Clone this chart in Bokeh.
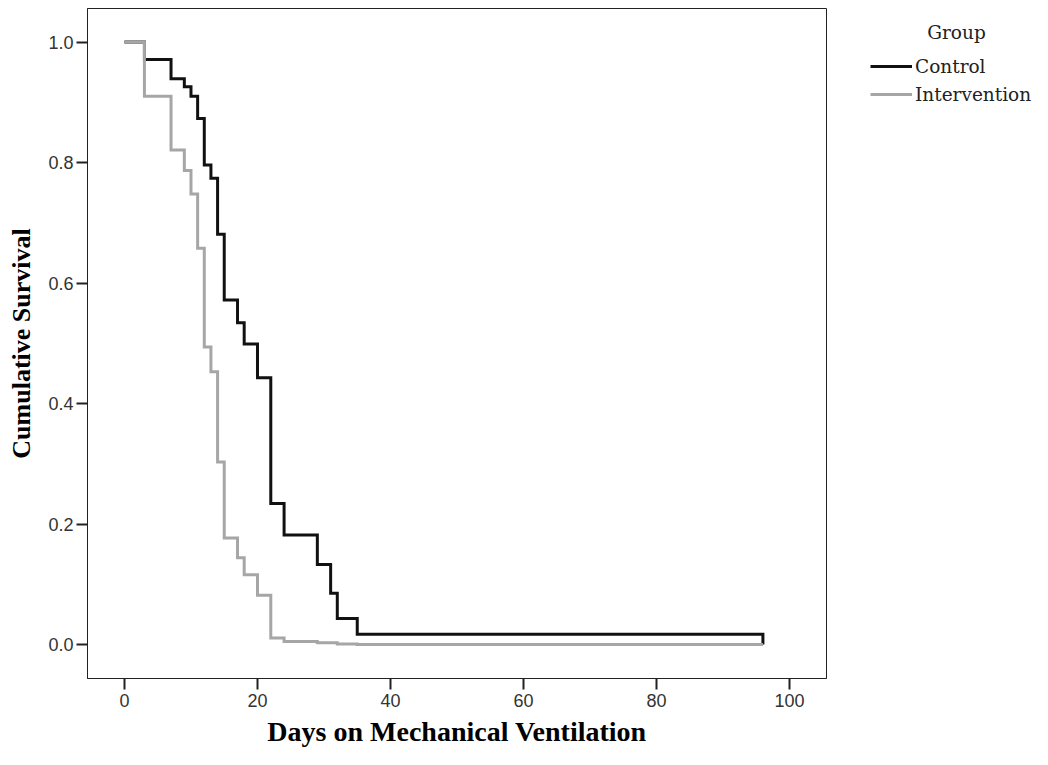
from bokeh.plotting import figure
from bokeh.layouts import row
from bokeh.models import (ColumnDataSource, Legend, LegendItem, Label, FixedTicker,
                          PrintfTickFormatter, Range1d)
from bokeh.embed import file_html
from bokeh.resources import INLINE

# Kaplan-Meier step data
control_days = [0, 3, 7, 9, 10, 11, 12, 13, 14, 15, 17, 18, 20, 22, 24, 29, 31, 32, 35, 96]
control_surv = [1.0, 0.971, 0.939, 0.926, 0.910, 0.873, 0.796, 0.774, 0.681, 0.572,
                0.534, 0.499, 0.443, 0.234, 0.182, 0.133, 0.085, 0.043, 0.017, 0.0]

interv_days = [0, 3, 7, 9, 10, 11, 12, 13, 14, 15, 17, 18, 20, 22, 24, 29, 32, 35, 96]
interv_surv = [1.0, 0.910, 0.821, 0.787, 0.748, 0.658, 0.494, 0.453, 0.303, 0.177,
               0.144, 0.116, 0.082, 0.011, 0.005, 0.003, 0.001, 0.0, 0.0]

x_ticks = [0, 20, 40, 60, 80, 100]
y_ticks = [0.0, 0.2, 0.4, 0.6, 0.8, 1.0]

group_title = "Group"
series_names = ["Control", "Intervention"]
series_colors = ["#111111", "#a6a6a6"]
x_title = "Days on Mechanical Ventilation"
y_title = "Cumulative Survival"

p = figure(width=828, height=749, output_backend="svg", toolbar_location=None,
           x_range=Range1d(-5.56, 105.56), y_range=Range1d(-0.0564, 1.0558),
           min_border_left=87, min_border_right=2, min_border_top=8,
           min_border_bottom=70)

p.xgrid.visible = False
p.ygrid.visible = False
p.outline_line_color = "#222222"
p.outline_line_width = 1
p.background_fill_color = "white"
p.border_fill_color = "white"

src_c = ColumnDataSource(dict(t=control_days, s=control_surv))
src_i = ColumnDataSource(dict(t=interv_days, s=interv_surv))

p.step(x="t", y="s", source=src_c, mode="after", line_color=series_colors[0],
       line_width=3, line_join="miter")
p.step(x="t", y="s", source=src_i, mode="after", line_color=series_colors[1],
       line_width=3, line_join="miter")

for ax in (p.xaxis[0], p.yaxis[0]):
    ax.major_tick_out = 11
    ax.major_tick_in = 0
    ax.minor_tick_line_color = None
    ax.major_tick_line_color = "#222222"
    ax.major_tick_line_width = 2
    ax.axis_line_color = "#222222"
    ax.major_label_text_font = "Liberation Sans"
    ax.major_label_text_font_size = "18px"
    ax.major_label_text_color = "#333333"
    ax.major_label_text_line_height = 1.0
    ax.axis_label_text_font = "Liberation Serif"
    ax.axis_label_text_font_style = "bold"
    ax.axis_label_text_color = "black"
    ax.axis_label_text_line_height = 1.0

p.xaxis.ticker = FixedTicker(ticks=x_ticks)
p.yaxis.ticker = FixedTicker(ticks=y_ticks)
p.yaxis.formatter = PrintfTickFormatter(format="%.1f")
p.xaxis.axis_label = x_title
p.yaxis.axis_label = y_title
p.xaxis.axis_label_text_font_size = "28px"
p.yaxis.axis_label_text_font_size = "26px"
p.xaxis.major_label_standoff = 4
p.yaxis.major_label_standoff = 3
p.xaxis.axis_label_standoff = 6
p.yaxis.axis_label_standoff = 9

# legend panel (its glyphs share the data but sit outside its own view)
lf = figure(width=204, height=749, output_backend="svg", toolbar_location=None,
            x_range=Range1d(1000, 1001), y_range=Range1d(1000, 1001),
            x_axis_location=None, y_axis_location=None,
            min_border_left=0, min_border_right=0, min_border_top=8,
            min_border_bottom=70)
lf.xgrid.visible = False
lf.ygrid.visible = False
lf.outline_line_color = None
lf.background_fill_color = "white"
lf.border_fill_color = "white"

proxy_c = lf.step(x="t", y="s", source=src_c, mode="after",
                  line_color=series_colors[0], line_width=3)
proxy_i = lf.step(x="t", y="s", source=src_i, mode="after",
                  line_color=series_colors[1], line_width=3)

legend = Legend(items=[LegendItem(label=series_names[0], renderers=[proxy_c]),
                       LegendItem(label=series_names[1], renderers=[proxy_i])],
                location=(42, 573), glyph_width=42, glyph_height=22,
                label_height=22, spacing=6, label_standoff=3, padding=0, margin=0,
                border_line_color=None, background_fill_alpha=0,
                label_text_font="DejaVu Serif", label_text_font_size="18.5px",
                label_text_color="#222222")
lf.add_layout(legend)

lf.add_layout(Label(x=128, y=646, x_units="screen", y_units="screen", text=group_title,
                    text_font="DejaVu Serif", text_font_size="18.5px",
                    text_color="#222222", text_align="center", text_baseline="middle"))

layout = row(p, lf, spacing=0)
open("out.html", "w").write(file_html(layout, INLINE))
